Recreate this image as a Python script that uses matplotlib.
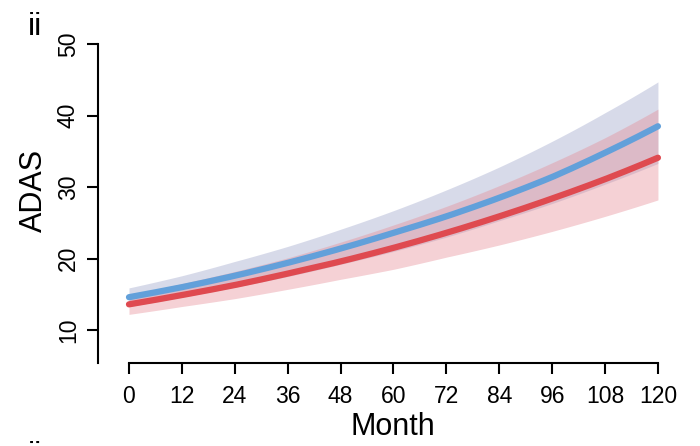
import matplotlib
matplotlib.use("Agg")
import matplotlib.pyplot as plt
import numpy as np

plt.rcParams['font.family'] = ['Liberation Sans', 'DejaVu Sans']

months = [0, 12, 24, 36, 48, 60, 72, 84, 96, 108, 120]
x_ticks = [0, 12, 24, 36, 48, 60, 72, 84, 96, 108, 120]
y_ticks = [10, 20, 30, 40, 50]

blue_mean = [14.6, 16.0, 17.6, 19.4, 21.4, 23.6, 25.9, 28.5, 31.4, 34.8, 38.5]
blue_upper = [15.9, 17.6, 19.6, 21.7, 24.1, 26.7, 29.6, 32.8, 36.4, 40.4, 44.7]
blue_lower = [13.3, 14.6, 16.0, 17.5, 19.2, 21.0, 23.0, 25.3, 27.7, 30.4, 33.3]

red_mean = [13.6, 14.9, 16.3, 17.9, 19.6, 21.5, 23.6, 25.9, 28.4, 31.1, 34.1]
red_upper = [14.9, 16.5, 18.2, 20.1, 22.3, 24.7, 27.3, 30.2, 33.4, 36.9, 40.9]
red_lower = [12.2, 13.3, 14.4, 15.7, 17.1, 18.5, 20.2, 21.9, 23.8, 25.9, 28.2]

W, H = 700, 446
fig = plt.figure(figsize=(W / 100, H / 100), dpi=100)
ax = fig.add_axes([98/W, 1 - 363/H, 567/W, 319/H])

# smooth curves through the read values
xs = np.linspace(0, 120, 241)
def sm(v):
    return np.exp(np.interp(xs, months, np.log(v)))

ax.fill_between(xs, sm(blue_lower), sm(blue_upper), color=(0.63, 0.66, 0.80), alpha=0.42, lw=0)
ax.fill_between(xs, sm(red_lower), sm(red_upper), color=(0.90, 0.55, 0.59), alpha=0.40, lw=0)
ax.plot(xs, sm(blue_mean), color='#62A0DA', lw=4.5, solid_capstyle='round')
ax.plot(xs, sm(red_mean), color='#DF4A50', lw=4.5, solid_capstyle='round')

ax.set_xlim(-7.03, 121.6)
ax.set_ylim(5.4, 50)
for s in ['top', 'right']:
    ax.spines[s].set_visible(False)
ax.spines['left'].set_bounds(5.4, 50)
ax.spines['bottom'].set_bounds(0, 120)
ax.spines['left'].set_linewidth(1.5)
ax.spines['bottom'].set_linewidth(1.5)

ax.set_xticks(x_ticks)
ax.set_xticklabels([str(t) for t in x_ticks], fontsize=16.5)
ax.set_yticks(y_ticks)
ax.set_yticklabels([str(t) for t in y_ticks], fontsize=16.5, rotation=90, va='center')
ax.tick_params(axis='both', length=8, width=1.5, direction='out')
ax.tick_params(axis='x', pad=8)
ax.tick_params(axis='y', pad=5)

fig.text(393/W, 1 - 427/H, 'Month', fontsize=22, ha='center', va='center')
fig.text(34/W, 1 - 190/H, 'ADAS', fontsize=22, ha='center', va='center', rotation=90)

fig.text(35/W, 1 - 27/H, 'ii', fontsize=23, ha='center', va='center')
fig.text(35/W, 1 - 441/H, 'ii', fontsize=23, ha='center', va='top')

fig.savefig('out.png', dpi=100)
